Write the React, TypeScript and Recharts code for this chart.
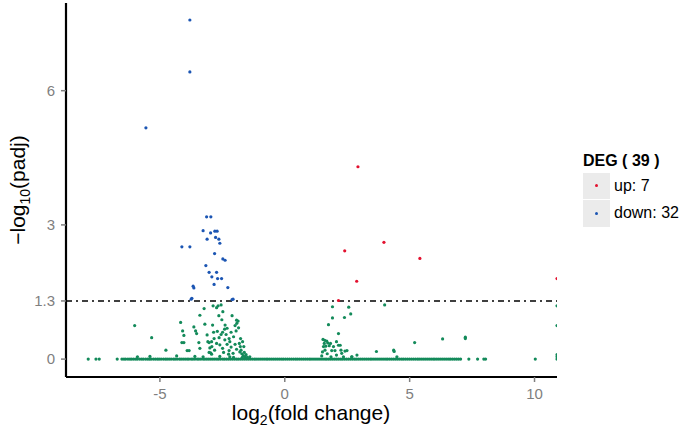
import React from "react";
import {
  ScatterChart,
  Scatter,
  XAxis,
  YAxis,
  ReferenceLine,
  Legend,
  Label,
} from "recharts";

const FONT = "'Liberation Sans', Arial, Helvetica, sans-serif";

const xTicks = [-5, 0, 5, 10];
const yTicks = [0, 1.3, 3, 6];
const padjCutoff = 1.3;

const upColor = "#e3112f";
const downColor = "#1b55b3";
const nsColor = "#138a5a";

// significant, up-regulated
const upGenes = [
  { x: 2.93, y: 4.3 },
  { x: 2.4, y: 2.42 },
  { x: 3.97, y: 2.61 },
  { x: 5.41, y: 2.25 },
  { x: 2.88, y: 1.74 },
  { x: 2.15, y: 1.31 },
  { x: 10.9, y: 1.8 },
];

// significant, down-regulated
const downGenes = [
  { x: -3.8, y: 7.58 },
  { x: -3.8, y: 6.42 },
  { x: -5.56, y: 5.17 },
  { x: -3.13, y: 3.18 },
  { x: -2.96, y: 3.18 },
  { x: -3.27, y: 2.87 },
  { x: -2.97, y: 2.82 },
  { x: -2.8, y: 2.86 },
  { x: -2.71, y: 2.86 },
  { x: -3.11, y: 2.68 },
  { x: -2.77, y: 2.72 },
  { x: -2.64, y: 2.68 },
  { x: -2.6, y: 2.59 },
  { x: -4.12, y: 2.51 },
  { x: -3.8, y: 2.51 },
  { x: -2.81, y: 2.36 },
  { x: -2.48, y: 2.24 },
  { x: -2.39, y: 2.21 },
  { x: -3.16, y: 2.09 },
  { x: -3.03, y: 1.94 },
  { x: -2.73, y: 1.94 },
  { x: -2.92, y: 1.84 },
  { x: -2.69, y: 1.8 },
  { x: -2.53, y: 1.8 },
  { x: -2.83, y: 1.67 },
  { x: -3.67, y: 1.63 },
  { x: -3.64, y: 1.59 },
  { x: -2.28, y: 1.6 },
  { x: -3.75, y: 1.34 },
  { x: -3.72, y: 1.36 },
  { x: -2.07, y: 1.34 },
  { x: -2.11, y: 1.33 },
];

// not significant, above zero
const nsScatter = [
  { x: -6.01, y: 0.75 }, { x: -5.33, y: 0.48 }, { x: -4.76, y: 0.2 },
  { x: -4.33, y: 0.07 }, { x: -5.9, y: 0.05 }, { x: -5.4, y: 0.06 },
  { x: -4.17, y: 0.82 }, { x: -4.09, y: 0.63 }, { x: -4.04, y: 0.53 },
  { x: -4.12, y: 0.37 }, { x: -4.04, y: 0.37 }, { x: -3.91, y: 0.19 },
  { x: -3.83, y: 0.19 }, { x: -3.64, y: 0.72 }, { x: -3.57, y: 0.63 },
  { x: -3.53, y: 0.57 }, { x: -3.44, y: 0.37 }, { x: -3.4, y: 0.98 },
  { x: -3.23, y: 1.13 }, { x: -3.11, y: 0.54 }, { x: -3.03, y: 0.37 },
  { x: -2.92, y: 0.28 }, { x: -2.97, y: 0.14 }, { x: -2.87, y: 1.19 },
  { x: -2.67, y: 1.19 }, { x: -2.55, y: 1.21 }, { x: -2.73, y: 1.15 },
  { x: -2.48, y: 1.06 }, { x: -2.64, y: 0.97 }, { x: -2.11, y: 0.97 },
  { x: -2.52, y: 0.88 }, { x: -1.93, y: 0.87 }, { x: -1.87, y: 0.85 },
  { x: -1.92, y: 0.8 }, { x: -2.89, y: 0.76 }, { x: -2.39, y: 0.76 },
  { x: -1.99, y: 0.75 }, { x: -2.41, y: 0.67 }, { x: -2.31, y: 0.69 },
  { x: -2.49, y: 0.6 }, { x: -2.83, y: 0.46 }, { x: -2.63, y: 0.48 },
  { x: -2.4, y: 0.43 }, { x: -2.23, y: 0.46 }, { x: -1.77, y: 0.46 },
  { x: -3.08, y: 0.39 }, { x: -2.93, y: 0.39 }, { x: -2.73, y: 0.35 },
  { x: -2.31, y: 0.33 }, { x: -2.2, y: 0.39 }, { x: -1.99, y: 0.33 },
  { x: -1.69, y: 0.39 }, { x: -3.4, y: 0.24 }, { x: -3.0, y: 0.25 },
  { x: -2.81, y: 0.2 }, { x: -2.49, y: 0.24 }, { x: -2.23, y: 0.19 },
  { x: -1.93, y: 0.22 }, { x: -1.64, y: 0.28 }, { x: -3.03, y: 0.15 },
  { x: -2.93, y: 0.11 }, { x: -2.25, y: 0.11 }, { x: -2.07, y: 0.13 },
  { x: -1.8, y: 0.16 }, { x: -2.2, y: 0.05 }, { x: -2.6, y: 0.06 },
  { x: -1.72, y: 0.12 }, { x: -1.66, y: 0.08 }, { x: -1.6, y: 0.05 },
  { x: -1.55, y: 0.1 }, { x: -1.7, y: 0.04 }, { x: -1.62, y: 0.15 },
  { x: -1.5, y: 0.04 }, { x: -1.75, y: 0.2 }, { x: -2.7, y: 0.62 },
  { x: -2.55, y: 0.55 }, { x: -2.15, y: 0.6 }, { x: -2.05, y: 0.5 },
  { x: -1.85, y: 0.7 }, { x: -1.95, y: 0.63 }, { x: -2.35, y: 0.55 },
  { x: -2.6, y: 0.32 }, { x: -2.45, y: 0.15 }, { x: -2.85, y: 0.6 },
  { x: -3.2, y: 0.78 }, { x: -1.82, y: 0.35 }, { x: -1.78, y: 0.28 },
  { x: -2.15, y: 0.27 }, { x: -3.27, y: 0.05 }, { x: -3.6, y: 0.06 },
  { x: -2.05, y: 0.04 }, { x: -1.4, y: 0.05 },
  { x: 1.91, y: 1.17 }, { x: 2.56, y: 1.16 }, { x: 2.64, y: 1.01 },
  { x: 2.39, y: 0.93 }, { x: 1.91, y: 0.92 }, { x: 1.75, y: 0.77 },
  { x: 2.15, y: 0.57 }, { x: 1.53, y: 0.44 }, { x: 1.6, y: 0.42 },
  { x: 1.68, y: 0.4 }, { x: 1.72, y: 0.36 }, { x: 1.83, y: 0.35 },
  { x: 2.07, y: 0.39 }, { x: 2.15, y: 0.31 }, { x: 2.22, y: 0.31 },
  { x: 1.64, y: 0.29 }, { x: 1.51, y: 0.16 }, { x: 1.61, y: 0.2 },
  { x: 1.88, y: 0.19 }, { x: 2.01, y: 0.19 }, { x: 2.25, y: 0.2 },
  { x: 2.41, y: 0.18 }, { x: 2.49, y: 0.19 }, { x: 2.07, y: 0.09 },
  { x: 2.28, y: 0.13 }, { x: 2.68, y: 0.05 }, { x: 2.89, y: 0.09 },
  { x: 3.67, y: 0.17 }, { x: 4.0, y: 1.21 }, { x: 1.48, y: 0.07 },
  { x: 1.55, y: 0.28 }, { x: 1.58, y: 0.35 }, { x: 1.78, y: 0.3 },
  { x: 1.95, y: 0.28 }, { x: 2.69, y: 0.05 }, { x: 4.36, y: 0.2 },
  { x: 4.38, y: 0.17 }, { x: 4.49, y: 0.05 }, { x: 5.2, y: 0.37 },
  { x: 6.32, y: 0.45 }, { x: 7.23, y: 0.49 }, { x: 7.23, y: 0.46 },
  { x: 10.9, y: 1.19 }, { x: 10.9, y: 0.75 }, { x: 10.9, y: 0.05 },
  { x: 10.9, y: 0.1 }, { x: 1.7, y: 0.12 }, { x: 2.35, y: 0.05 },
  { x: 1.85, y: 0.05 },
];

// not significant, padj = 1 (the band along zero)
const nsBaselineX = [
  -7.87, -7.56, -7.43, -6.71,
  -6.52, -6.44, -6.37, -6.28, -6.2, -6.13, -6.05, -5.97, -5.9, -5.81,
  -5.73, -5.66, -5.57, -5.49, -5.42, -5.35, -5.26, -5.18, -5.1, -5.03,
  -4.95, -4.86, -4.78, -4.71, -4.63, -4.55, -4.46, -4.39, -4.31, -4.22,
  -4.15, -4.07, -3.99, -3.91, -3.84, -3.75, -3.68, -3.6, -3.51, -3.44,
  -3.36, -3.27, -3.2, -3.12, -3.04, -2.96, -2.88, -2.8, -2.72, -2.65,
  -2.57, -2.48, -2.41, -2.33, -2.25, -2.17, -2.09, -2.01, -1.93, -1.86,
  -1.78, -1.7, -1.62, -1.54, -1.46, -1.38, -1.3, -1.22, -1.15, -1.07,
  -0.99, -0.91, -0.83, -0.75, -0.68, -0.6, -0.52, -0.44, -0.36, -0.28,
  -0.2, -0.12, -0.05, 0.03, 0.11, 0.19, 0.27, 0.35, 0.43, 0.5,
  0.58, 0.66, 0.74, 0.82, 0.9, 0.98, 1.05, 1.13, 1.21, 1.29,
  1.37, 1.45, 1.53, 1.61, 1.68, 1.76, 1.84, 1.92, 2.0, 2.08,
  2.16, 2.24, 2.31, 2.39, 2.47, 2.55, 2.63, 2.71, 2.79, 2.86,
  2.94, 3.02, 3.1, 3.18, 3.26, 3.34, 3.42, 3.49, 3.57, 3.65,
  3.73, 3.81, 3.89, 3.97, 4.05, 4.12, 4.2, 4.28, 4.36, 4.44,
  4.52, 4.6, 4.68, 4.75, 4.83, 4.91, 4.99, 5.07, 5.15, 5.23,
  5.31, 5.38, 5.46, 5.54, 5.62, 5.7, 5.78, 5.86, 5.94, 6.01,
  6.09, 6.17, 6.25, 6.33, 6.41, 6.49, 6.57, 6.64, 6.72, 6.8,
  6.88, 6.96, 7.04, 7.37, 7.72, 7.97, 8.04, 10.03, 10.9,
];

const legendItems = [
  { label: `up: ${upGenes.length}`, color: upColor },
  { label: `down: ${downGenes.length}`, color: downColor },
];

const nsData = [...nsBaselineX.map((x) => ({ x, y: 0 })), ...nsScatter];

const dot = (color: string) => (props: any) =>
  props.cx == null ? null : <circle cx={props.cx} cy={props.cy} r={1.6} fill={color} />;

const DegLegend = () => (
  <div style={{ fontFamily: FONT, color: "#000" }}>
    <div style={{ fontWeight: "bold", fontSize: 16, lineHeight: "18px", marginBottom: 2 }}>
      DEG ( {upGenes.length + downGenes.length} )
    </div>
    {legendItems.map((item) => (
      <div key={item.label} style={{ display: "flex", alignItems: "center", height: 27.5 }}>
        <div
          style={{
            width: 27,
            height: 26.5,
            background: "#ebebeb",
            display: "flex",
            alignItems: "center",
            justifyContent: "center",
          }}
        >
          <div style={{ width: 3, height: 3, borderRadius: 2, background: item.color }} />
        </div>
        <span style={{ fontSize: 16, marginLeft: 4 }}>{item.label}</span>
      </div>
    ))}
  </div>
);

const XTitle = () => (
  <text x={311} y={420} textAnchor="middle" fontSize={21} fontFamily={FONT} fill="#000">
    log
    <tspan dy={5} fontSize={14}>2</tspan>
    <tspan dy={-5}>(fold change)</tspan>
  </text>
);

const YTitle = () => (
  <text
    x={25}
    y={190}
    textAnchor="middle"
    fontSize={21}
    fontFamily={FONT}
    fill="#000"
    transform="rotate(-90, 25, 190)"
  >
    −log
    <tspan dy={5} fontSize={14}>10</tspan>
    <tspan dy={-5}>(padj)</tspan>
  </text>
);

export default function App() {
  return (
    <div style={{ position: "absolute", left: 0, top: 0, background: "#fff" }}>
      <ScatterChart
        width={685}
        height={429}
        margin={{ top: 3, right: 128, bottom: 22, left: 0 }}
        style={{ fontFamily: FONT }}
      >
        <XAxis
          type="number"
          dataKey="x"
          domain={[-8.76, 10.9]}
          ticks={xTicks}
          allowDataOverflow
          height={30}
          tickSize={5}
          tickMargin={6}
          axisLine={{ stroke: "#000", strokeWidth: 2.2 }}
          tickLine={{ stroke: "#7f7f7f", strokeWidth: 1.5 }}
          tick={{ fill: "#7f7f7f", fontSize: 15, fontFamily: FONT }}
        >
          <Label content={<XTitle />} />
        </XAxis>
        <YAxis
          type="number"
          dataKey="y"
          domain={[-0.4, 7.96]}
          ticks={yTicks}
          allowDataOverflow
          width={66}
          tickSize={5}
          tickMargin={6}
          axisLine={{ stroke: "#000", strokeWidth: 2.2 }}
          tickLine={{ stroke: "#7f7f7f", strokeWidth: 1.5 }}
          tick={{ fill: "#7f7f7f", fontSize: 15, fontFamily: FONT }}
        >
          <Label content={<YTitle />} />
        </YAxis>
        <Scatter data={nsData} shape={dot(nsColor)} isAnimationActive={false} legendType="none" />
        <Scatter data={downGenes} shape={dot(downColor)} isAnimationActive={false} />
        <Scatter data={upGenes} shape={dot(upColor)} isAnimationActive={false} />
        <ReferenceLine
          y={padjCutoff}
          stroke="#000"
          strokeWidth={1.6}
          strokeDasharray="6 4 2 4"
        />
        <Legend
          layout="horizontal"
          align="center"
          verticalAlign="middle"
          content={<DegLegend />}
          wrapperStyle={{ position: "absolute", left: 583, top: 152, width: 102 }}
        />
      </ScatterChart>
    </div>
  );
}
